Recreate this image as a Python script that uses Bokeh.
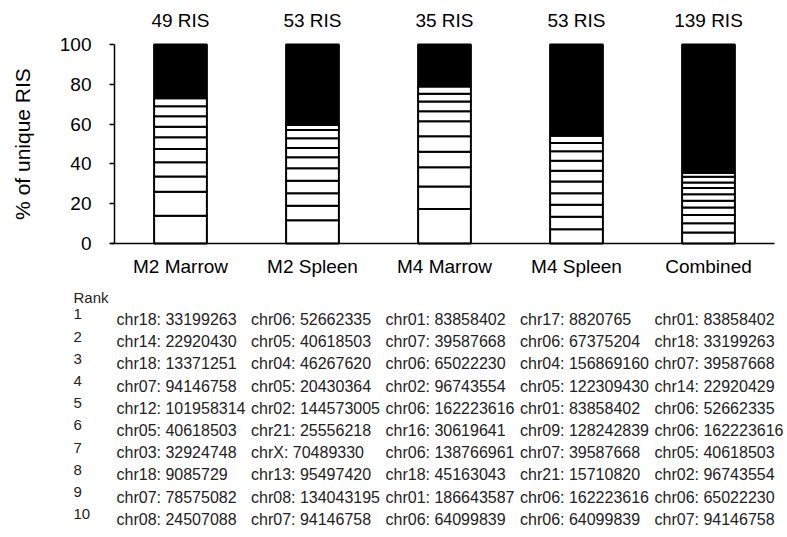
from bokeh.plotting import figure
from bokeh.models import Range1d, LinearAxis, FixedTicker, ColumnDataSource
from bokeh.core.properties import value
from bokeh.embed import file_html
from bokeh.resources import INLINE

FONT = "Liberation Sans"

# ---------------- data ----------------
samples = ["M2 Marrow", "M2 Spleen", "M4 Marrow", "M4 Spleen", "Combined"]
ris_counts = [49, 53, 35, 53, 139]

# % of unique RIS contributed by ranks 1..10
m2_marrow_pct = [13.9, 12.1, 7.7, 7.1, 6.7, 5.9, 5.3, 5.2, 5.1, 4.0]
m2_spleen_pct = [11.7, 7.3, 6.3, 6.2, 6.3, 5.5, 4.7, 4.9, 4.1, 2.6]
m4_marrow_pct = [17.3, 11.4, 9.6, 7.8, 7.8, 7.5, 5.0, 4.9, 3.9, 3.7]
m4_spleen_pct = [7.2, 6.2, 6.1, 5.8, 5.9, 5.4, 5.0, 4.7, 4.2, 3.7]
combined_pct = [5.5, 4.7, 4.1, 3.8, 3.4, 3.3, 3.1, 2.8, 2.9, 1.8]

ranks = list(range(1, 11))

m2_marrow_sites = ["chr18: 33199263", "chr14: 22920430", "chr18: 13371251", "chr07: 94146758",
                   "chr12: 101958314", "chr05: 40618503", "chr03: 32924748", "chr18: 9085729",
                   "chr07: 78575082", "chr08: 24507088"]
m2_spleen_sites = ["chr06: 52662335", "chr05: 40618503", "chr04: 46267620", "chr05: 20430364",
                   "chr02: 144573005", "chr21: 25556218", "chrX: 70489330", "chr13: 95497420",
                   "chr08: 134043195", "chr07: 94146758"]
m4_marrow_sites = ["chr01: 83858402", "chr07: 39587668", "chr06: 65022230", "chr02: 96743554",
                   "chr06: 162223616", "chr16: 30619641", "chr06: 138766961", "chr18: 45163043",
                   "chr01: 186643587", "chr06: 64099839"]
m4_spleen_sites = ["chr17: 8820765", "chr06: 67375204", "chr04: 156869160", "chr05: 122309430",
                   "chr01: 83858402", "chr09: 128242839", "chr07: 39587668", "chr21: 15710820",
                   "chr06: 162223616", "chr06: 64099839"]
combined_sites = ["chr01: 83858402", "chr18: 33199263", "chr07: 39587668", "chr14: 22920429",
                  "chr06: 52662335", "chr06: 162223616", "chr05: 40618503", "chr02: 96743554",
                  "chr06: 65022230", "chr07: 94146758"]

all_pct = [m2_marrow_pct, m2_spleen_pct, m4_marrow_pct, m4_spleen_pct, combined_pct]
all_sites = [m2_marrow_sites, m2_spleen_sites, m4_marrow_sites, m4_spleen_sites, combined_sites]

# category centres on a numeric axis
centres = [i + 0.5 for i in range(len(samples))]

# ---------------- stacked bars ----------------
seg = dict(x=[], bottom=[], top=[])
rest = dict(x=[], bottom=[], top=[])
for c, pct in zip(centres, all_pct):
    cum = 0.0
    for v in pct:
        seg["x"].append(c)
        seg["bottom"].append(cum)
        cum += v
        seg["top"].append(cum)
    rest["x"].append(c)
    rest["bottom"].append(cum)
    rest["top"].append(100)

# frame covers the chart and the table below it; the axes are pinned inside
p = figure(width=787, height=537, x_range=Range1d(-0.8636, 5.0985),
           y_range=Range1d(-147.74, 107.035), output_backend="svg", toolbar_location=None,
           min_border_left=0, min_border_right=0, min_border_top=30, min_border_bottom=0)
p.outline_line_color = None
p.grid.visible = False

p.vbar(x="x", bottom="bottom", top="top", width=0.4, fill_color="white",
       line_color="black", line_width=2, source=ColumnDataSource(seg))
p.vbar(x="x", bottom="bottom", top="top", width=0.4, fill_color="black",
       line_color="black", line_width=2, source=ColumnDataSource(rest))

ya = p.yaxis[0]
ya.fixed_location = 0
ya.bounds = (0, 100)
ya.ticker = [0, 20, 40, 60, 80, 100]
ya.major_tick_out = 5
ya.major_tick_in = 0
ya.minor_tick_line_color = None
ya.axis_line_width = 1.5
ya.major_tick_line_width = 1.5
ya.major_label_text_font = FONT
ya.major_label_text_font_size = "19px"
ya.major_label_text_color = "black"
ya.major_label_standoff = 18
ya.axis_label = "% of unique RIS"
ya.axis_label_text_font = FONT
ya.axis_label_text_font_style = "normal"
ya.axis_label_text_font_size = "21px"
ya.axis_label_text_color = "black"
ya.axis_label_standoff = 23

xa = p.xaxis[0]
xa.fixed_location = 0
xa.bounds = (-0.03, 5.0)
xa.ticker = FixedTicker(ticks=centres)
xa.major_label_overrides = {c: s for c, s in zip(centres, samples)}
xa.major_tick_line_color = None
xa.major_tick_out = 0
xa.minor_tick_line_color = None
xa.axis_line_width = 1.5
xa.major_label_text_font = FONT
xa.major_label_text_font_size = "19px"
xa.major_label_text_color = "black"
xa.major_label_standoff = 13

top_axis = LinearAxis(ticker=FixedTicker(ticks=centres),
                      axis_line_color=None, major_tick_line_color=None, major_tick_out=0,
                      minor_tick_line_color=None, major_label_text_font=FONT,
                      major_label_text_font_size="19px", major_label_text_color="black",
                      major_label_standoff=0,
                      major_label_overrides={c: f"{n} RIS" for c, n in zip(centres, ris_counts)})
p.add_layout(top_axis, "above")

# ---------------- table of top-10 sites ----------------
p.extra_x_ranges = {"cols": Range1d(0.1375, 5.9888)}
p.extra_y_ranges = {"rows": Range1d(10.82, -12.018)}

tab = dict(x=[], y=[], text=[])
for ci, sites in enumerate(all_sites):
    for r, t in zip(ranks, sites):
        tab["x"].append(ci + 1)
        tab["y"].append(r)
        tab["text"].append(t)

TXT = "#222222"
p.text(x="x", y="y", text="text", source=ColumnDataSource(tab),
       x_range_name="cols", y_range_name="rows",
       text_font=value(FONT), text_font_size="16px", text_color=TXT,
       text_align="left", text_baseline="middle")
p.text(x=[1] * len(ranks), y=ranks, text=[str(r) for r in ranks],
       x_range_name="cols", y_range_name="rows", x_offset=-43, y_offset=-5,
       text_font=value(FONT), text_font_size="15px", text_color=TXT,
       text_align="left", text_baseline="middle")
p.text(x=[1], y=[0], text=["Rank"], x_range_name="cols", y_range_name="rows", x_offset=-43,
       text_font=value(FONT), text_font_size="15px", text_color=TXT,
       text_align="left", text_baseline="middle")

open("out.html", "w").write(file_html(p, INLINE))
